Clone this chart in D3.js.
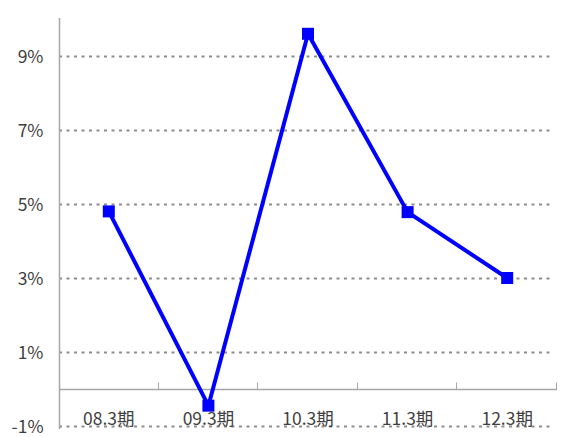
<!DOCTYPE html>
<html><head><meta charset="utf-8">
<script src="https://cdn.jsdelivr.net/npm/d3@7"></script>
<style>body{margin:0;background:#fff}svg{display:block}</style>
</head><body><svg id="c" width="562" height="437"></svg>
<script>
const categories = ["08.3期","09.3期","10.3期","11.3期","12.3期"];
const values = [4.8, -0.45, 9.6, 4.78, 3.0];
const yTicks = [-1, 1, 3, 5, 7, 9];

const svg = d3.select("#c");
const mLeft = 59, mRight = 557, mTop = 19, mBottom = 426;
const x = d3.scaleBand().domain(categories).range([mLeft, mRight]);
const y = d3.scaleLinear().domain([-1, 10]).range([mBottom, mTop]);
const font = "'Noto Sans CJK JP', 'Noto Sans', sans-serif";

// gridlines
svg.append("g").selectAll("line").data(yTicks).join("line")
  .attr("x1", mLeft).attr("x2", 553)
  .attr("y1", d => Math.round(y(d)) + 0.5).attr("y2", d => Math.round(y(d)) + 0.5)
  .attr("stroke", "#8c8c8c").attr("stroke-width", 2).attr("stroke-dasharray", "3,4.5");

// y axis
const yAxis = d3.axisLeft(y).tickValues(yTicks).tickSize(0).tickPadding(16).tickFormat(d => d + "%");
const gy = svg.append("g").attr("transform", `translate(${mLeft + 0.5},0)`).call(yAxis);
gy.select(".domain").attr("stroke", "#a6a6a6").attr("stroke-width", 1.5).attr("d", `M0,${mTop - 1}V${mBottom + 3}`);
gy.selectAll("text").attr("font-family", font).attr("font-size", 17.5).attr("fill", "#404040").attr("dy", "0.35em");

// x axis at zero
const xAxis = d3.axisBottom(x).tickSize(0).tickPadding(0);
const gx = svg.append("g").attr("transform", `translate(0,${Math.round(y(0)) + 0.5})`).call(xAxis);
gx.select(".domain").attr("stroke", "#a6a6a6").attr("stroke-width", 1.5).attr("d", `M${mLeft},0H${mRight}`);
gx.selectAll(".tick text").attr("font-family", font).attr("font-size", 17.5).attr("fill", "#404040")
  .attr("y", 29).attr("dy", "0.35em").attr("text-anchor", "middle");
// boundary ticks
gx.append("g").selectAll("line").data(categories.slice(1).concat(["end"])).join("line")
  .attr("x1", (d, i) => Math.round(mLeft + x.step() * (i + 1)) - 0.5)
  .attr("x2", (d, i) => Math.round(mLeft + x.step() * (i + 1)) - 0.5)
  .attr("y1", -7).attr("y2", 0).attr("stroke", "#a6a6a6").attr("stroke-width", 1);

// line
const cx = d => x(d) + x.bandwidth() / 2;
const line = d3.line().x((d, i) => cx(categories[i])).y(d => y(d));
svg.append("path").datum(values).attr("d", line).attr("fill", "none")
  .attr("stroke", "#0000ff").attr("stroke-width", 4).attr("stroke-linejoin", "round");
svg.append("g").selectAll("rect").data(values).join("rect")
  .attr("x", (d, i) => cx(categories[i]) - 6).attr("y", d => y(d) - 6)
  .attr("width", 12).attr("height", 12).attr("fill", "#0000ff");
</script></body></html>
